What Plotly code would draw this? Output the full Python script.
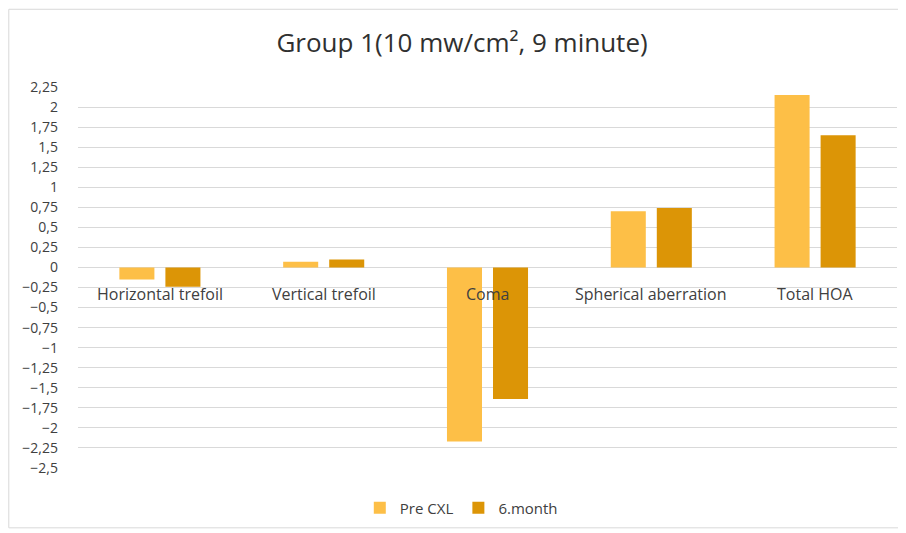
import plotly.graph_objects as go

categories = ["Horizontal trefoil", "Vertical trefoil", "Coma", "Spherical aberration", "Total HOA"]
pre_cxl = [-0.15, 0.07, -2.17, 0.70, 2.15]
month6 = [-0.24, 0.10, -1.64, 0.74, 1.65]
series_names = ["Pre CXL", "6.month"]
title_text = "Group 1(10 mw/cm², 9 minute)"

FONT = "Open Sans, sans-serif"

fig = go.Figure()
fig.add_trace(go.Bar(x=categories, y=pre_cxl, name=series_names[0],
                     marker=dict(color="#FDBF47", line=dict(width=0))))
fig.add_trace(go.Bar(x=categories, y=month6, name=series_names[1],
                     marker=dict(color="#DC9506", line=dict(width=0))))

for c in categories:
    fig.add_annotation(x=c, y=0, xref="x", yref="y", text=c, showarrow=False,
                       yanchor="middle", yshift=-27,
                       font=dict(family=FONT, size=16, color="#404040"))

fig.add_shape(type="rect", xref="paper", yref="paper",
              x0=-0.0845, x1=1.006, y0=-0.157, y1=1.204,
              line=dict(color="#D9D9D9", width=1), fillcolor="rgba(0,0,0,0)", layer="below")

fig.update_layout(
    width=898, height=525,
    margin=dict(l=70, r=9, t=79, b=65),
    paper_bgcolor="white", plot_bgcolor="white",
    separators=", ",
    barmode="group", bargap=0.438, bargroupgap=0.239,
    title=dict(text=title_text, x=0.5056, xref="container", xanchor="center",
               y=1 - 35/525, yref="container", yanchor="middle",
               font=dict(family=FONT, size=26, color="#303030")),
    xaxis=dict(showticklabels=False, showgrid=False, zeroline=False, showline=False,
               ticks=""),
    yaxis=dict(range=[-2.5, 2.25], dtick=0.25, tick0=0, showgrid=True,
               gridcolor="#D9D9D9", gridwidth=1, zeroline=True, zerolinecolor="#D9D9D9",
               zerolinewidth=1, showline=False, ticks="", ticklabelstandoff=19,
               tickfont=dict(family=FONT, size=14, color="#404040")),
    legend=dict(orientation="h", x=0.468, xanchor="center", y=-0.105, yanchor="middle",
                font=dict(family=FONT, size=15, color="#404040"),
                itemwidth=30, traceorder="normal"),
    showlegend=True,
)

fig.write_html("out.html")
